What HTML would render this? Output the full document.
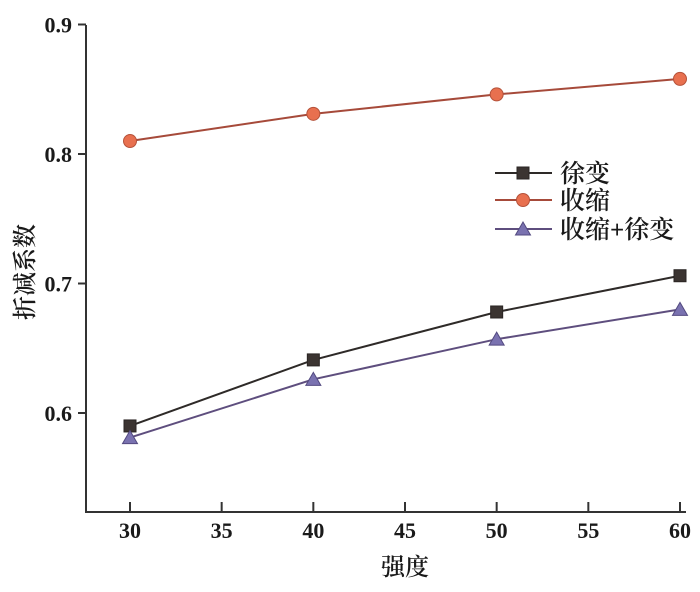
<!DOCTYPE html>
<html><head><meta charset="utf-8">
<style>
html,body{margin:0;padding:0;background:#fff;}
svg{display:block;}
text{font-family:"Liberation Serif","Noto Serif CJK SC",serif;fill:#1a1a1a;}
</style></head>
<body>
<svg id="chart" width="700" height="592" viewBox="0 0 700 592" xmlns="http://www.w3.org/2000/svg"></svg>
<script>
const categories = [30, 40, 50, 60];
const creepValues = [0.590, 0.641, 0.678, 0.706];
const shrinkValues = [0.810, 0.831, 0.846, 0.858];
const bothValues = [0.581, 0.626, 0.657, 0.680];
const xTicks = [30, 35, 40, 45, 50, 55, 60];
const yTicks = [0.6, 0.7, 0.8, 0.9];
const seriesNames = ["徐变", "收缩", "收缩+徐变"];

const NS = "http://www.w3.org/2000/svg";
const svg = document.getElementById("chart");
function xs(v){ return 130 + (v - 30) * (550 / 30); }
function ys(v){ return 413 - (v - 0.6) * 1295; }
function mk(tag, attrs, parent){
  const e = document.createElementNS(NS, tag);
  for (const k in attrs) e.setAttribute(k, attrs[k]);
  (parent || svg).appendChild(e);
  return e;
}
const axisColor = "#333";
const yAxis = mk("line", {x1:86, y1:25, x2:86, y2:512, stroke:axisColor, "stroke-width":2});


const xAxis = mk("line", {x1:85, y1:512, x2:686, y2:512, stroke:axisColor, "stroke-width":2});



yTicks.forEach(v => {
  const y = ys(v);
  const t = mk("line", {x1:78, y1:y, x2:86, y2:y, stroke:axisColor, "stroke-width":2});
  
  
  const l = mk("text", {x:72, y:y + 8, "text-anchor":"end", "font-size":22, "font-weight":"bold"});
  l.textContent = v.toFixed(1);
  
  
});
xTicks.forEach(v => {
  const x = xs(v);
  const t = mk("line", {x1:x, y1:512, x2:x, y2:502, stroke:axisColor, "stroke-width":2});
  
  
  const l = mk("text", {x:x, y:538, "text-anchor":"middle", "font-size":22, "font-weight":"bold"});
  l.textContent = String(v);
  
  
});
const xt = mk("text", {x:405, y:575, "text-anchor":"middle", "font-size":24, "font-weight":"600"});
xt.textContent = "强度";


const yt = mk("text", {x:0, y:0, "text-anchor":"middle", "font-size":24, "font-weight":"600", transform:"translate(33,272) rotate(-90)"});
yt.textContent = "折减系数";



const styles = [
  {vals: creepValues, line:"#2e2a28", fill:"#3b3431", stroke:"#2a2523", shape:"square"},
  {vals: shrinkValues, line:"#a64a3a", fill:"#e8704f", stroke:"#b5523a", shape:"circle"},
  {vals: bothValues, line:"#5e4e7e", fill:"#7a72b0", stroke:"#534a80", shape:"triangle"}
];
function marker(shape, x, y, s, g){
  if (shape === "square") return mk("rect", {x:x-6, y:y-6, width:12, height:12, fill:s.fill, stroke:s.stroke, "stroke-width":1}, g);
  if (shape === "circle") return mk("circle", {cx:x, cy:y, r:6.5, fill:s.fill, stroke:s.stroke, "stroke-width":1}, g);
  return mk("polygon", {points:`${x},${y-7} ${x-7.5},${y+6} ${x+7.5},${y+6}`, fill:s.fill, stroke:s.stroke, "stroke-width":1}, g);
}
styles.forEach((s, i) => {
  const g = mk("g", {});
  
  
  const pts = categories.map((c, j) => xs(c) + "," + ys(s.vals[j])).join(" ");
  const pl = mk("polyline", {points:pts, fill:"none", stroke:s.line, "stroke-width":2}, g);
  
  
  categories.forEach((c, j) => {
    const m = marker(s.shape, xs(c), ys(s.vals[j]), s, g);
    
    
  });
  const ly = [173, 200, 229][i];
  const lg = mk("g", {});
  
  
  mk("line", {x1:495, y1:ly, x2:552, y2:ly, stroke:s.line, "stroke-width":2}, lg);
  marker(s.shape, 523, ly, s, lg);
  const lt = mk("text", {x:560, y:ly + 9, "font-size":25, "font-weight":"600"}, lg);
  lt.textContent = seriesNames[i];
});
</script>
</body></html>
